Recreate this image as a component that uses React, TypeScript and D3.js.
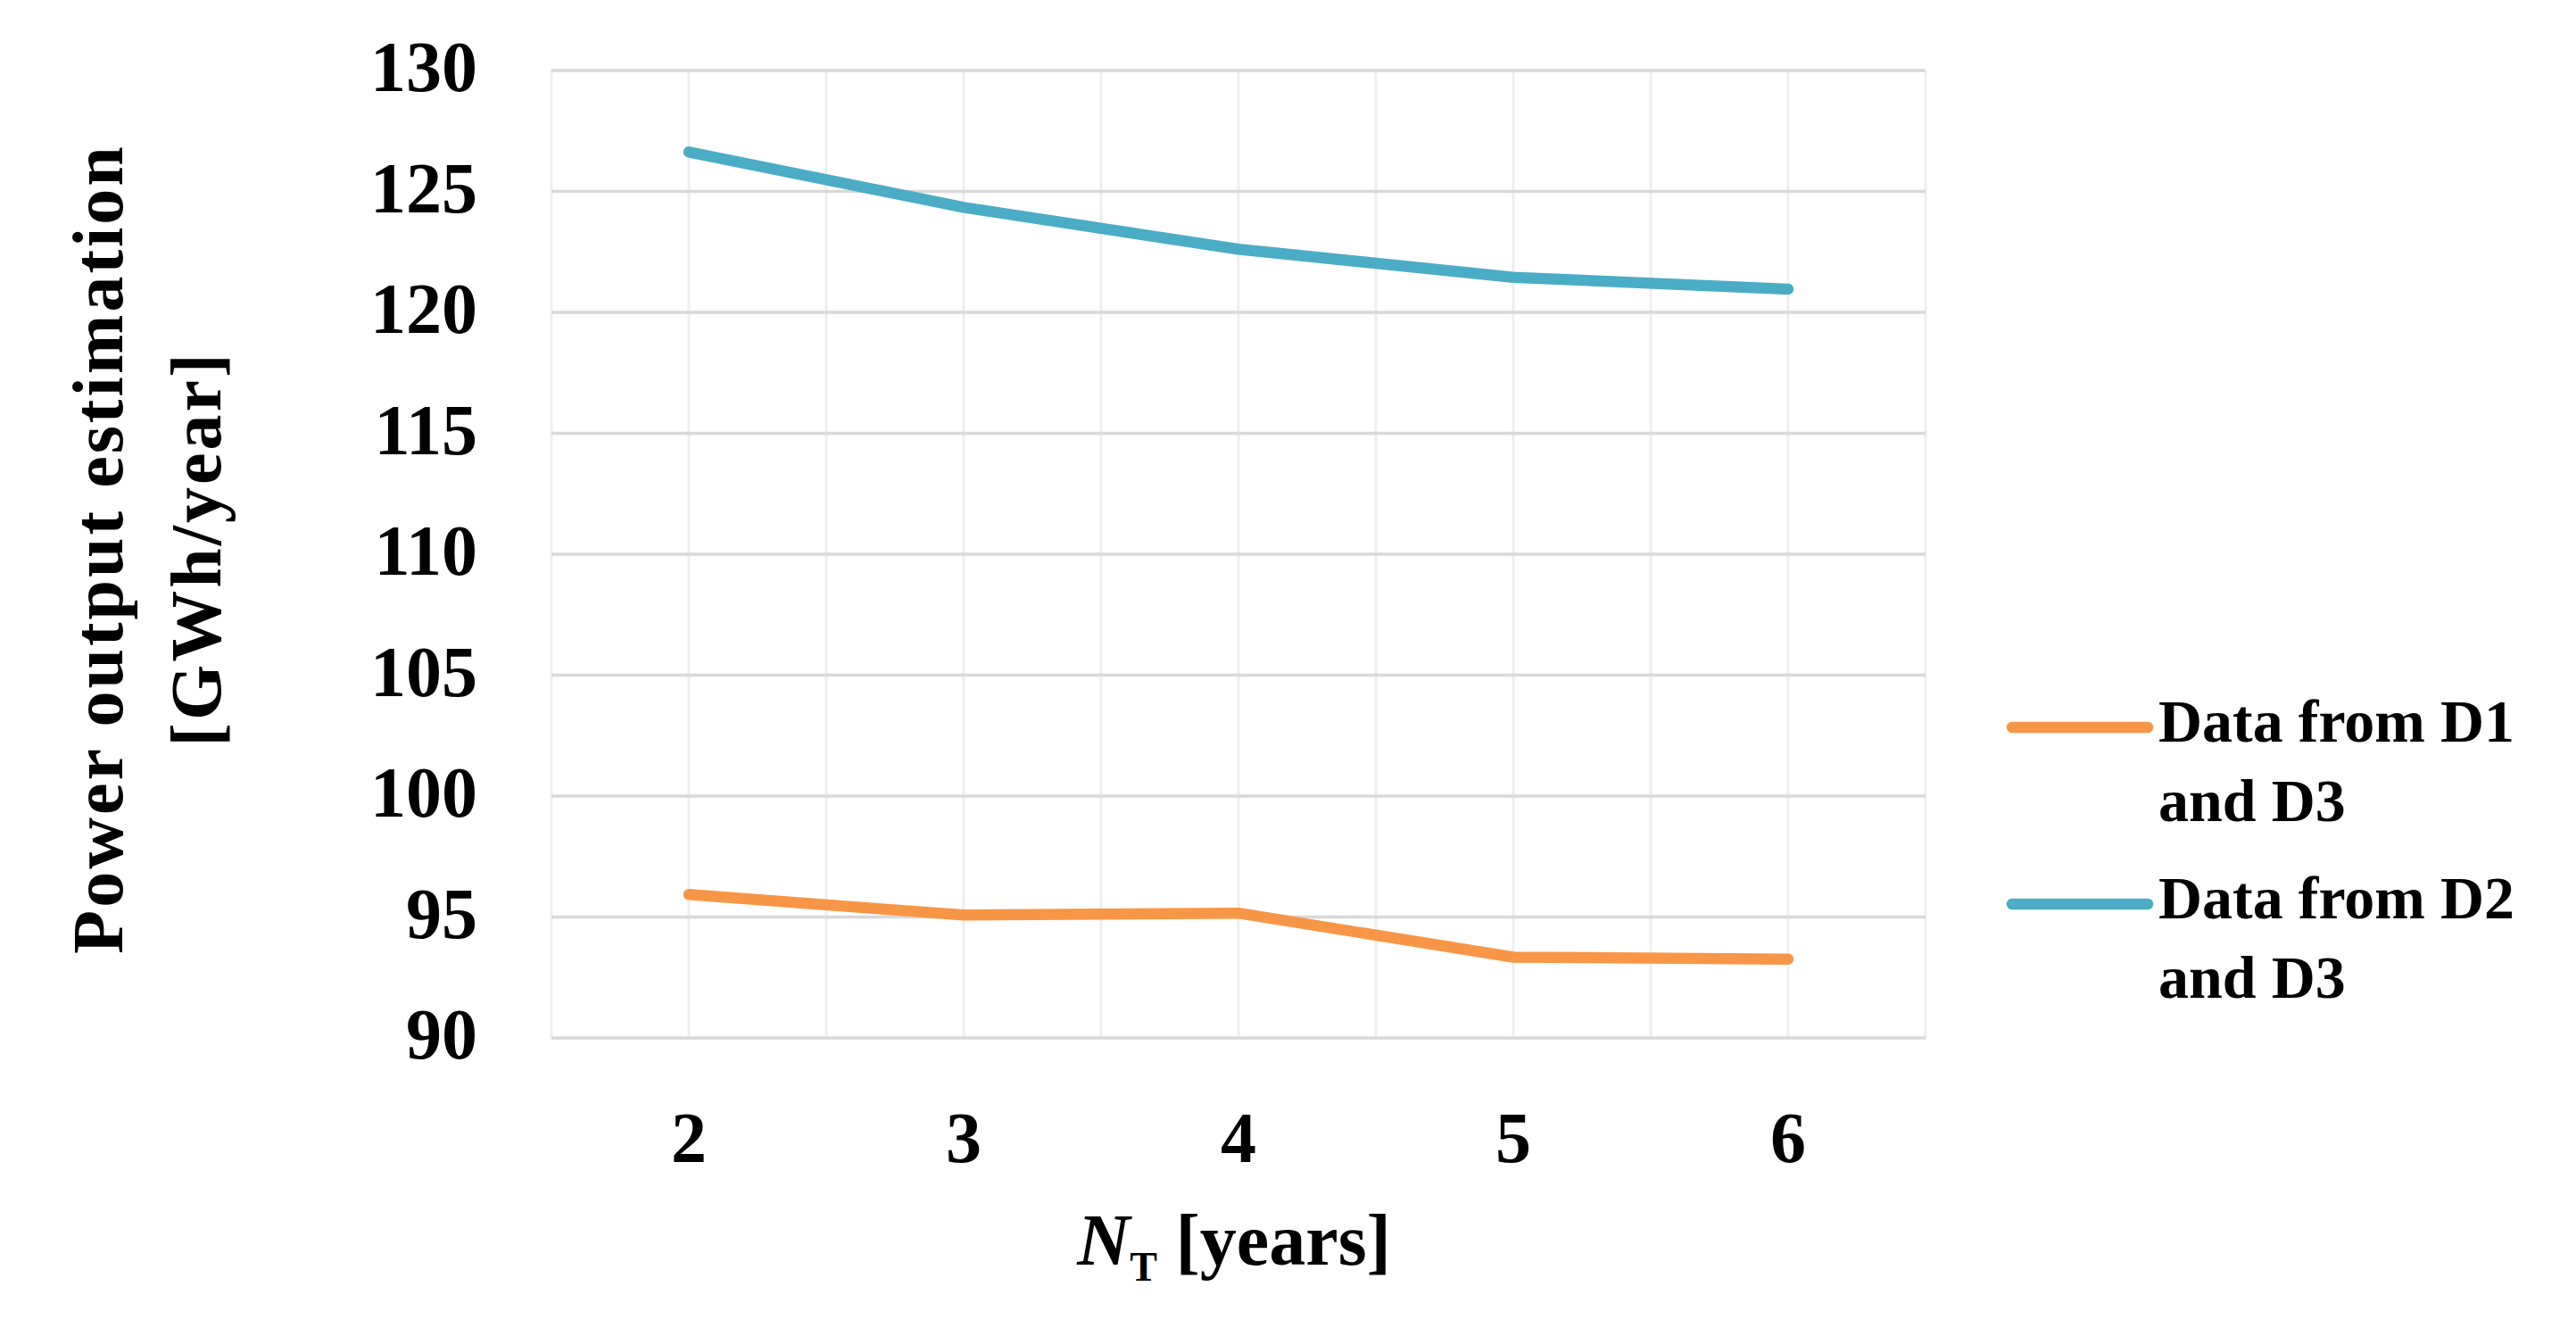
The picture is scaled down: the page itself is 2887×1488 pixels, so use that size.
import * as d3 from 'd3'

// categories on the x axis (N_T, years)
const years = ['2', '3', '4', '5', '6']
// Data from D1 and D3
const d1d3 = [95.93, 95.08, 95.16, 93.34, 93.26]
// Data from D2 and D3
const d2d3 = [126.63, 124.34, 122.61, 121.45, 120.96]
const yTicks = [90, 95, 100, 105, 110, 115, 120, 125, 130]

const series = [
  { name: ['Data from D1', 'and D3'], values: d1d3, color: '#F79646' },
  { name: ['Data from D2', 'and D3'], values: d2d3, color: '#4BACC6' },
]

const W = 2887
const H = 1488
const FONT = '"Liberation Serif", "Times New Roman", serif'

export default function App() {
  const x = d3.scaleBand<string>().domain(years).range([618, 2158])
  const y = d3.scaleLinear().domain([90, 130]).range([1163, 79])
  const cx = (c: string) => (x(c) ?? 0) + x.bandwidth() / 2

  // vertical grid: band edges + category centres
  const vLines: number[] = [x.range()[0]]
  years.forEach(c => { vLines.push(cx(c)); vLines.push((x(c) ?? 0) + x.bandwidth()) })

  const line = d3.line<number>()
    .x((_, i) => cx(years[i]))
    .y(v => y(v))

  const [x0, x1] = x.range()

  return (
    <svg width={W} height={H} style={{ position: 'absolute', left: 0, top: 0, background: '#fff' }}
      fontFamily={FONT} fontWeight={700}>
      <rect width={W} height={H} fill="#fff" />

      {/* vertical gridlines */}
      {vLines.map((v, i) => (
        <line key={'v' + i} x1={v} x2={v} y1={y(130)} y2={y(90)} stroke="#efefef" strokeWidth={3} />
      ))}
      {/* horizontal gridlines */}
      {yTicks.map(t => (
        <line key={'h' + t} x1={x0} x2={x1} y1={y(t)} y2={y(t)} stroke="#d9d9d9" strokeWidth={3.5} />
      ))}

      {/* y tick labels */}
      {yTicks.map(t => (
        <text key={'yt' + t} x={535} y={y(t) + 23} textAnchor="end" fontSize={80} fill="#000">{t}</text>
      ))}

      {/* x tick labels */}
      {years.map(c => (
        <text key={'xt' + c} x={cx(c)} y={1302} textAnchor="middle" fontSize={80} fill="#000">{c}</text>
      ))}

      {/* series */}
      {series.map(s => (
        <path key={s.color} d={line(s.values) ?? ''} fill="none" stroke={s.color}
          strokeWidth={12.5} strokeLinejoin="round" strokeLinecap="round" />
      ))}

      {/* x axis title */}
      <text x={1383} y={1417} textAnchor="middle" fontSize={82} fill="#000">
        <tspan fontStyle="italic">N</tspan>
        <tspan fontSize={46} dy={18}>T</tspan>
        <tspan dy={-18}> [years]</tspan>
      </text>

      {/* y axis title */}
      <g transform="translate(137,615) rotate(-90)">
        <text x={0} y={0} textAnchor="middle" fontSize={80} letterSpacing={3} fill="#000">Power output estimation</text>
        <text x={0} y={110} textAnchor="middle" fontSize={80} letterSpacing={3} fill="#000">[GWh/year]</text>
      </g>

      {/* legend */}
      {series.map((s, i) => {
        const ly = 815 + i * 198
        return (
          <g key={'lg' + i}>
            <line x1={2255} x2={2407} y1={ly} y2={ly} stroke={s.color} strokeWidth={12.5} strokeLinecap="round" />
            <text x={2419} y={ly + 16} fontSize={68} fill="#000">{s.name[0]}</text>
            <text x={2419} y={ly + 105} fontSize={68} fill="#000">{s.name[1]}</text>
          </g>
        )
      })}
    </svg>
  )
}
